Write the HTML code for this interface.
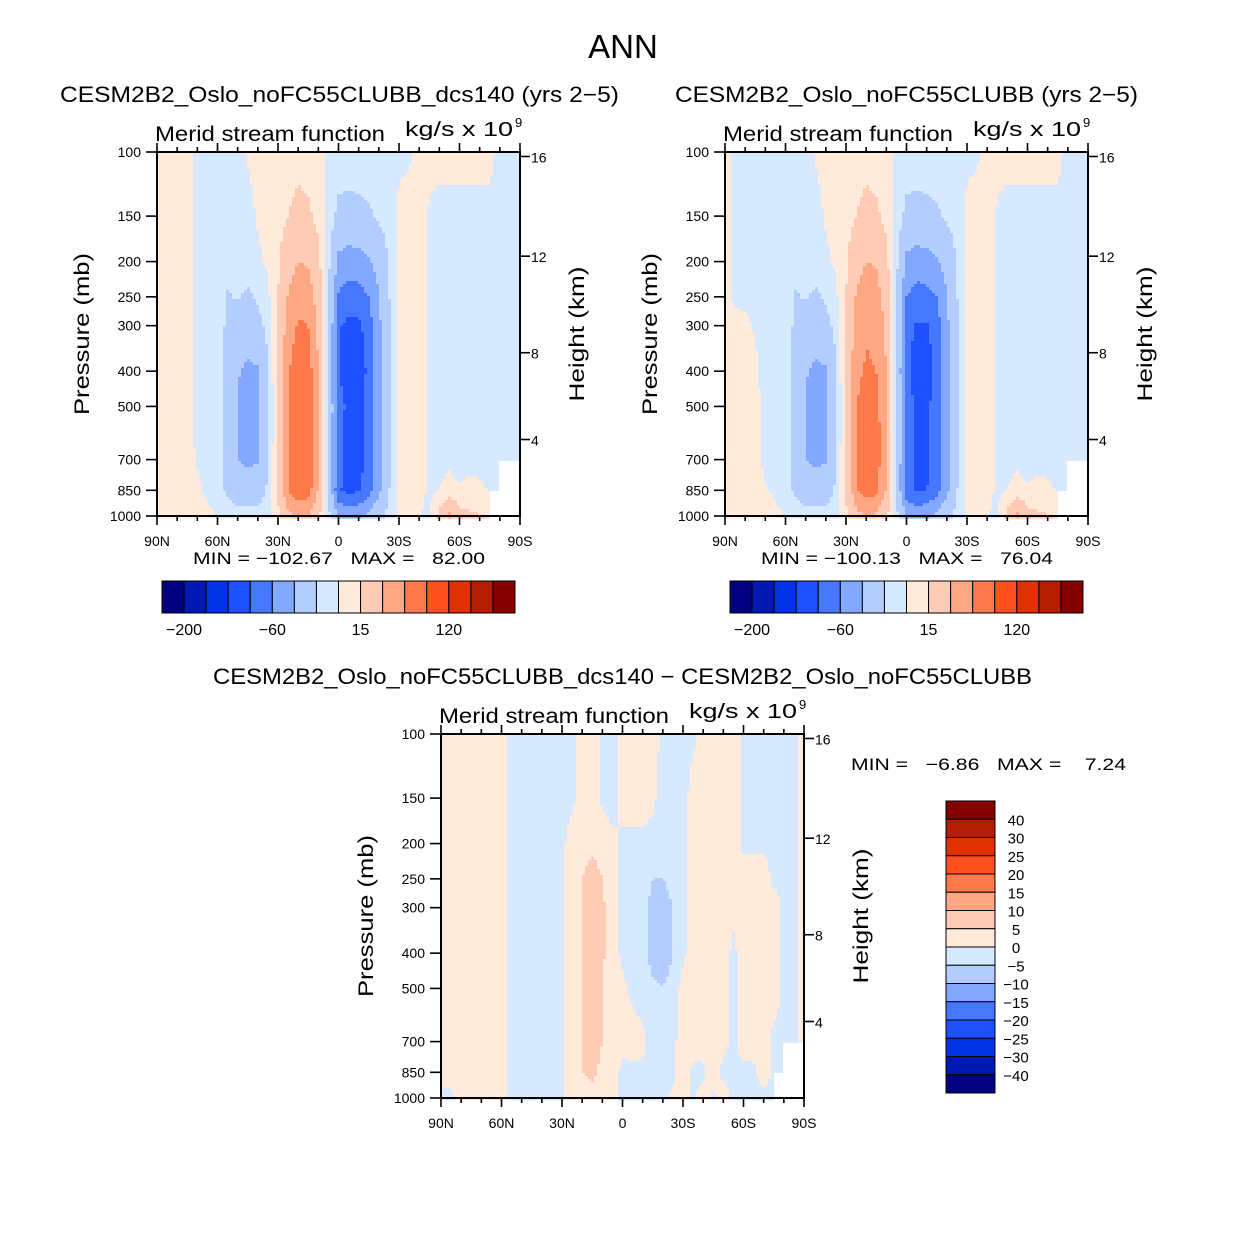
<!DOCTYPE html>
<html><head><meta charset="utf-8"><style>
html,body{margin:0;padding:0;background:#fff;}
svg text{font-family:"Liberation Sans",sans-serif;fill:#000;white-space:pre;}
</style></head><body>
<svg id="fig" width="1246" height="1246" viewBox="0 0 1246 1246" xmlns="http://www.w3.org/2000/svg">
<rect width="1246" height="1246" fill="#fff"/>
<text x="623" y="58" font-size="33" text-anchor="middle">ANN</text>
<text x="60" y="102" font-size="22" textLength="559" lengthAdjust="spacingAndGlyphs">CESM2B2_Oslo_noFC55CLUBB_dcs140 (yrs 2−5)</text>
<text x="675" y="102" font-size="22" textLength="463" lengthAdjust="spacingAndGlyphs">CESM2B2_Oslo_noFC55CLUBB (yrs 2−5)</text>
<text x="213" y="684" font-size="22" textLength="819" lengthAdjust="spacingAndGlyphs">CESM2B2_Oslo_noFC55CLUBB_dcs140 − CESM2B2_Oslo_noFC55CLUBB</text>
<g id="layer"></g>
</svg>
<script>
// ---- data ----
const lats = [90,85,80,75,70,65,60,55,50,45,40,35,30,25,20,15,10,5,0,-5,-10,-15,-20,-25,-30,-35,-40,-45,-50,-55,-60,-65,-70,-75,-80,-85,-90];
const pressures = [100,150,200,250,300,400,500,700,850,1000];
const heightTicks = [16,12,8,4];
const latTickLabels = ['90N','60N','30N','0','30S','60S','90S'];
const levelsMain = [-200,-150,-100,-80,-60,-40,-15,0,15,40,60,80,120,150,200];
const levelsDiff = [-40,-30,-25,-20,-15,-10,-5,0,5,10,15,20,25,30,40];
const mainBarLabels = ['−200','−60','15','120'];
const diffBarLabels = ['40','30','25','20','15','10','5','0','−5','−10','−15','−20','−25','−30','−40'];
const N = NaN;
const panel1Cols = [
[5,5,5,5,5,5,5,5,5,5],[5,5,5,5,5,5,5,5,5,5],[5,5,5,5,5,5,5,5,5,5],
[3,3,3,3,3,3,3,3,4,5],[-3,-3,-3,-3,-3,-3,-2,-1,2,5],[-5,-5,-5,-5,-5,-5,-5,-4,-2,3],
[-5,-5,-6,-8,-8,-10,-10,-10,-8,0],[-5,-6,-10,-16,-18,-20,-22,-22,-18,-5],
[-3,-5,-8,-14,-22,-38,-42,-40,-25,-8],[1,-3,-8,-18,-28,-45,-48,-45,-28,-8],
[3,1,-2,-12,-22,-42,-45,-42,-25,-8],[4,3,2,-3,-10,-16,-18,-16,-12,-3],
[5,8,12,15,18,20,20,20,18,10],[8,15,30,42,50,58,62,62,60,35],
[10,20,40,55,62,72,78,78,72,40],[8,18,38,52,60,70,75,75,70,38],
[5,10,20,30,35,40,42,42,38,20],[-2,-5,-10,-14,-16,-17,-18,-18,-18,-10],
[-5,-20,-45,-62,-78,-78,-72,-75,-78,-40],[-5,-22,-50,-70,-85,-95,-85,-88,-85,-45],
[-5,-20,-48,-68,-85,-98,-88,-90,-82,-42],[-4,-18,-42,-60,-68,-72,-70,-70,-68,-35],
[-3,-12,-30,-42,-45,-48,-48,-48,-45,-22],[-2,-8,-14,-16,-18,-18,-18,-18,-16,-8],
[-3,3,3,3,3,3,3,3,3,2],[-2,5,5,5,5,5,5,5,5,3],[3,5,5,5,5,5,5,5,4,0],
[3,-1,-2,-2,-2,-2,-2,-2,-2,-2],[3,-3,-3,-3,-3,-3,-3,-3,0,20],
[3,-3,-3,-3,-3,-3,-4,-3,5,45],[3,-3,-3,-3,-3,-8,-16,-8,3,20],
[3,-3,-3,-3,-3,-4,-5,-3,3,18],[3,-3,-3,-3,-3,-3,-3,-3,2,16],
[3,-3,-3,-3,-3,-3,-3,-3,-1,15],[-3,-3,-3,-3,-3,-3,-3,-3,-3,N],
[-3,-3,-3,-3,-3,-3,-3,-3,N,N],[-3,-3,-3,-3,-3,-3,-3,-3,N,N]];
const panel2Cols = [
[3,3,3,3,5,5,5,5,5,5],[-2,-2,-2,-2,3,5,5,5,5,5],[-3,-3,-3,-2,2,4,5,5,5,5],
[-3,-3,-3,-3,-1,2,3,3,4,5],[-4,-4,-4,-4,-4,-4,-3,-2,1,5],[-5,-5,-5,-5,-5,-5,-5,-4,-2,3],
[-5,-5,-6,-8,-8,-10,-10,-10,-8,0],[-5,-6,-10,-16,-18,-20,-22,-22,-18,-5],
[-3,-5,-8,-14,-22,-38,-42,-40,-25,-8],[1,-3,-8,-18,-28,-45,-48,-45,-28,-8],
[3,1,-2,-12,-22,-42,-45,-42,-25,-8],[4,3,2,-3,-10,-16,-18,-16,-12,-3],
[5,8,12,15,18,20,20,20,18,10],[8,15,30,42,48,55,58,60,58,33],
[10,20,40,52,58,62,72,74,70,40],[8,18,38,50,56,60,68,70,66,36],
[5,10,20,30,35,40,42,42,38,20],[-2,-5,-10,-14,-16,-17,-18,-18,-18,-10],
[-5,-20,-45,-60,-72,-74,-70,-72,-74,-40],[-5,-22,-50,-68,-82,-90,-84,-85,-82,-45],
[-5,-20,-48,-66,-82,-92,-85,-86,-80,-42],[-4,-18,-42,-60,-68,-72,-70,-70,-68,-35],
[-3,-12,-30,-42,-45,-48,-48,-48,-45,-22],[-2,-8,-14,-16,-18,-18,-18,-18,-16,-8],
[-3,3,3,3,3,3,3,3,3,2],[-2,5,5,5,5,5,5,5,5,3],[3,5,5,5,5,5,5,5,4,0],
[3,-1,-2,-2,-2,-2,-2,-2,-2,-2],[3,-3,-3,-3,-3,-3,-3,-3,0,20],
[3,-3,-3,-3,-3,-3,-4,-3,5,45],[3,-3,-3,-3,-3,-8,-16,-8,3,20],
[3,-3,-3,-3,-3,-4,-5,-3,3,18],[3,-3,-3,-3,-3,-3,-3,-3,2,16],
[3,-3,-3,-3,-3,-3,-3,-3,-1,15],[-3,-3,-3,-3,-3,-3,-3,-3,-3,N],
[-3,-3,-3,-3,-3,-3,-3,-3,N,N],[-3,-3,-3,-3,-3,-3,-3,-3,N,N]];
const diffCols = [
[2,2,2,2,2,2,2,2,2,-1],[2,2,2,2,2,2,2,2,2,-1],[2,2,2,2,2,2,2,2,2,2],[2,2,2,2,2,2,2,2,2,2],
[2,2,2,2,2,2,2,2,2,2],[2,2,2,2,2,2,2,2,2,2],[2,2,2,2,2,2,2,2,2,2],
[-1,-1,-1,-1,-1,-1,-1,-1,-1,-1],[-2,-2,-2,-2,-2,-2,-2,-2,-2,-2],[-2,-2,-2,-2,-2,-2,-2,-2,-2,-2],
[-2,-2,-2,-2,-2,-2,-2,-2,-2,-2],[-2,-2,-2,-2,-2,-2,-2,-2,-2,-2],
[-2,-2,-1,-1,-1,-1,-1,-1,-1,-1],[-1,-1,2,2,2,2,2,2,2,2],
[2,2,3,5,5,5,5,5,5,2],[2,3,4,7,7,7,7,7,6,3],[-1,-1,3,5,6,6,5,5,4,2],
[-2,-2,1,2,2,2,2,2,2,1],[2,2,-1,-2,-1,-1,1,1,-1,-1],[2,2,-1,-2,-2,-2,-1,2,-1,-1],
[2,2,-1,-2,-3,-3,-2,1,-1,-1],[2,1,-2,-5,-7,-7,-4,-2,-2,-1],[-1,-2,-3,-5,-8,-8,-5,-2,-2,-1],
[-2,-2,-2,-3,-5,-5,-3,-1,-1,1],[-2,-2,-1,-1,-1,-1,2,2,2,2],[-1,2,2,2,2,2,2,2,-1,-1],
[2,2,2,2,2,2,2,2,-1,2],[2,2,2,2,2,2,2,2,2,-1],[2,2,2,2,2,2,2,1,-1,2],
[2,2,2,2,1,-1,-1,-1,-1,-1],[-1,-1,-1,2,2,2,2,2,-1,-1],[-1,-1,-1,2,2,2,2,2,-1,-1],
[-1,-1,-1,2,2,2,2,2,2,-1],[-1,-1,-1,-1,2,2,2,-1,-1,-1],[-1,-1,-1,-1,-1,-1,-1,-1,-1,N],
[-1,-1,-1,-1,-1,-1,-1,-1,N,N],[2,2,2,2,2,2,2,1,N,N]];
const colors = ['#000080','#0019b4','#0032e6','#1e50ff','#4678ff','#82a8ff','#b4cdff','#d7e9ff','#ffeadc','#ffcbb4','#ffa682','#ff7a4a','#ff5020','#e03200','#b41e00','#840000'];

const NS='http://www.w3.org/2000/svg';
const layer=document.getElementById('layer');
function mk(tag,attrs,parent){const e=document.createElementNS(NS,tag);for(const k in attrs)e.setAttribute(k,attrs[k]);(parent||layer).appendChild(e);return e;}
function txt(s,attrs,parent){const e=mk('text',attrs,parent);e.textContent=s;return e;}
function stdP(km){const z=km*1000;if(z<=11000)return 1013.25*Math.pow(1-2.25577e-5*z,5.25588);return 226.32*Math.exp(-(z-11000)/6341.6);}

function sample(cols,lat,p){
  const fi=(lats[0]-lat)/(lats[0]-lats[1]);
  let i=Math.min(Math.floor(fi),lats.length-2);const tx=fi-i;
  const lp=Math.log10(p);let j=0;
  while(j<pressures.length-2&&lp>Math.log10(pressures[j+1]))j++;
  const l0=Math.log10(pressures[j]),l1=Math.log10(pressures[j+1]);
  const ty=(lp-l0)/(l1-l0);
  const a=cols[i][j],b=cols[i+1][j],c=cols[i][j+1],d=cols[i+1][j+1];
  if(isNaN(a)||isNaN(b)||isNaN(c)||isNaN(d))return NaN;
  return (a*(1-tx)+b*tx)*(1-ty)+(c*(1-tx)+d*tx)*ty;
}
function levelIndex(v,levels){let k=0;while(k<levels.length&&v>=levels[k])k++;return k;}

function panel(name,ox,oy,cols,levels,opts){
  const W=363,H=364;
  const g=mk('g',{});
  
  
  const xOf=lat=>ox+(90-lat)/180*W;
  const yOf=p=>oy+(Math.log10(p)-2)*H;
  const step=3;
  const cg=mk('g',{},g);
  
  
  for(let py=0;py<H;py+=step){
    const p=Math.pow(10,2+(py+step/2)/H);
    let runStart=0,runCol=null;
    for(let px=0;px<=W;px+=step){
      let col=null;
      if(px<W){const lat=90-(px+step/2)/W*180;const v=sample(cols,lat,p);col=isNaN(v)?'#ffffff':colors[levelIndex(v,levels)];}
      if(col!==runCol){
        if(runCol!==null){const r=mk('rect',{x:ox+runStart,y:oy+py,width:Math.min(px,W)-runStart+0.6,height:step+0.6,fill:runCol},cg);
          
          }
        runStart=px;runCol=col;
      }
    }
  }
  const fr=mk('rect',{x:ox,y:oy,width:W,height:H,fill:'none',stroke:'#000','stroke-width':2},g);
  
  
  for(let lat=90;lat>=-90;lat-=10){
    const x=xOf(lat);const major=(lat%30===0);const L=major?9:5;
    mk('line',{x1:x,x2:x,y1:oy+H,y2:oy+H+L,stroke:'#000','stroke-width':1.6},g);
    mk('line',{x1:x,x2:x,y1:oy,y2:oy-L,stroke:'#000','stroke-width':1.6},g);
  }
  latTickLabels.forEach((s,k)=>{const t=txt(s,{x:xOf(90-30*k),y:oy+H+30,'font-size':14,'text-anchor':'middle'},g);
    
    });
  pressures.forEach(p=>{const y=yOf(p);
    mk('line',{x1:ox-11,x2:ox,y1:y,y2:y,stroke:'#000','stroke-width':1.6},g);
    const t=txt(String(p),{x:ox-16,y:y+5,'font-size':14,'text-anchor':'end'},g);
    
    });
  heightTicks.forEach(km=>{const y=yOf(stdP(km));
    mk('line',{x1:ox+W,x2:ox+W+10,y1:y,y2:y,stroke:'#000','stroke-width':1.6},g);
    const t=txt(String(km),{x:ox+W+11,y:y+6,'font-size':14},g);
    
    });
  let t=txt('Merid stream function',{x:ox-2,y:oy-11,'font-size':21,textLength:230,lengthAdjust:'spacingAndGlyphs'},g);
  
  
  t=txt('kg/s x 10',{x:ox+248,y:oy-16,'font-size':20,textLength:108,lengthAdjust:'spacingAndGlyphs'},g);
  
  
  txt('9',{x:ox+358,y:oy-25,'font-size':13},g);
  t=txt('Pressure (mb)',{x:0,y:0,'font-size':21,'text-anchor':'middle',transform:`translate(${ox-68},${oy+182}) rotate(-90)`,textLength:162,lengthAdjust:'spacingAndGlyphs'},g);
  
  
  t=txt('Height (km)',{x:0,y:0,'font-size':21,'text-anchor':'middle',transform:`translate(${ox+W+64},${oy+182}) rotate(-90)`,textLength:135,lengthAdjust:'spacingAndGlyphs'},g);
  
  
  if(opts.minmax){t=txt(opts.minmax,{x:ox+36,y:oy+H+48,'font-size':17,textLength:292,lengthAdjust:'spacingAndGlyphs'},g);
    
    }
}
function hbar(name,x0,y0){
  const g=mk('g',{});
  
  
  const bw=353/16;
  colors.forEach((c,i)=>{const r=mk('rect',{x:x0+i*bw,y:y0,width:bw,height:32,fill:c,stroke:'#000','stroke-width':1},g);
    
    });
  mainBarLabels.forEach((s,k)=>{const t=txt(s,{x:x0+(1+4*k)*bw,y:y0+54,'font-size':16,'text-anchor':'middle'},g);
    
    });
}
panel('panel1',157,152,panel1Cols,levelsMain,{minmax:'MIN = −102.67   MAX =   82.00'});
panel('panel2',725,152,panel2Cols,levelsMain,{minmax:'MIN = −100.13   MAX =   76.04'});
panel('diff-panel',441,734,diffCols,levelsDiff,{});
hbar('colorbar1',162,581);
hbar('colorbar2',730,581);
(function(){
  const g=mk('g',{});
  
  
  const bh=292/16;
  for(let i=0;i<16;i++){const r=mk('rect',{x:946,y:801+i*bh,width:49,height:bh,fill:colors[15-i],stroke:'#000','stroke-width':1},g);
    
    }
  diffBarLabels.forEach((s,k)=>{const t=txt(s,{x:1016,y:801+(k+1)*bh+6,'font-size':15,'text-anchor':'middle'},g);
    
    });
  const t=txt('MIN =   −6.86   MAX =    7.24',{x:851,y:770,'font-size':17,textLength:275,lengthAdjust:'spacingAndGlyphs'},g);
  
  
})();
</script>
</body></html>
